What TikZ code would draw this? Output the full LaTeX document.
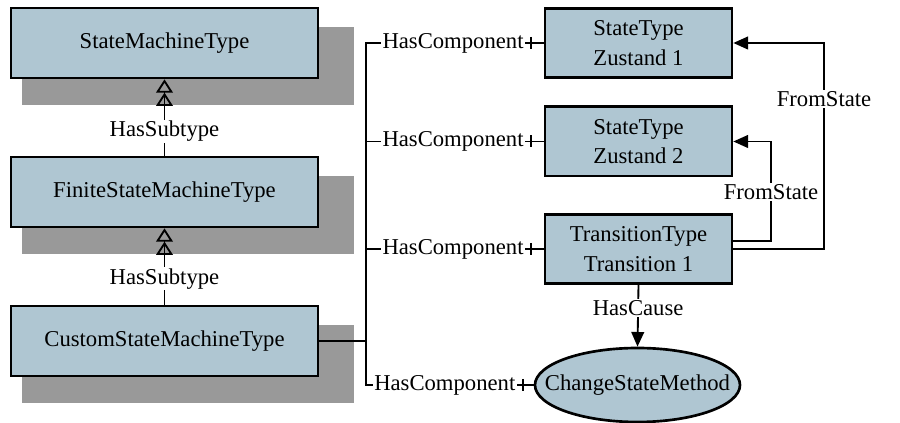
\documentclass[tikz,border=0pt]{standalone}
\usepackage{fontspec}
\setmainfont{Liberation Serif}
\usetikzlibrary{arrows.meta,calc,shapes.geometric,backgrounds}
\definecolor{boxfill}{RGB}{175,198,210}
\definecolor{shadowc}{RGB}{153,153,153}
\begin{document}
\begin{tikzpicture}[x=0.75pt,y=-0.75pt,
  every node/.style={font=\fontsize{17}{22}\selectfont},
  box/.style={draw, line width=2pt, fill=boxfill, minimum width=230.25pt, minimum height=52.5pt, inner sep=0pt, align=center},
  rbox/.style={box, minimum width=140.25pt, minimum height=52pt},
  oval/.style={ellipse, draw, line width=2pt, fill=boxfill, minimum width=153.75pt, minimum height=55.5pt, inner sep=0pt},
  conn/.style={line width=1.4pt},
  lbl/.style={fill=white, inner sep=1pt},
  shadowbox/.style={fill=shadowc},
  sub/.style={conn, -{Triangle[open,length=10pt,width=12.5pt]Triangle[open,length=10pt,width=12.5pt]}},
  arr/.style={conn, -{Triangle[length=11pt,width=9.5pt]}},
]
\useasboundingbox (0,0) rectangle (900,423);
\node[box] (smt) at (164.5,43) {StateMachineType};
\node[box] (fsm) at (164.5,192) {FiniteStateMachineType};
\node[box] (csm) at (164.5,341) {CustomStateMachineType};
\node[rbox] (z1) at (638.5,43) {StateType\\Zustand 1};
\node[rbox] (z2) at (638.5,141.5) {StateType\\Zustand 2};
\node[rbox] (tr) at (638.5,249) {TransitionType\\Transition 1};
\node[oval] (m) at (637.5,385) {};
\node (mtext) at (m.center) {ChangeStateMethod};

\begin{scope}[on background layer]
\foreach \n in {smt,fsm,csm}
  \fill[shadowbox] ($(\n.north west)+(12,20)$) rectangle ($(\n.south east)+(35,26)$);
\end{scope}

% subtype
\draw[sub] (fsm.north) -- node[lbl,pos=0.32]{HasSubtype} (smt.south);
\draw[sub] (csm.north) -- node[lbl,pos=0.34]{HasSubtype} (fsm.south);

% components
\coordinate (bus) at (366,0);
\draw[conn] (csm.east) -- (csm.east -| bus);
\draw[conn] (z1.west) -- node[lbl,pos=0.51]{HasComponent} (z1.west -| bus)
  -- (m.west -| bus) -- node[lbl,pos=0.47]{HasComponent} (m.west);
\draw[conn] (z2.west -| bus) -- node[lbl,pos=0.49]{HasComponent} (z2.west);
\draw[conn] (tr.west -| bus) -- node[lbl,pos=0.49]{HasComponent} (tr.west);
\foreach \n/\d in {z1/13,z2/13,tr/13,m/11}
  \draw[conn] ($(\n.west)+(-\d,-6)$) -- ++(0,12);

% from state
\coordinate (f1) at (771,241);
\coordinate (f2) at (824,0);
\draw[arr] (tr.east |- f1) -- (f1) -- node[lbl,pos=0.49]{FromState} (f1 |- z2.east) -- (z2.east);
\draw[arr] (tr.east) -- (tr.east -| f2) -- node[lbl,pos=0.73]{FromState} (f2 |- z1.east) -- (z1.east);

% cause
\draw[arr] (tr.south) -- node[lbl,pos=0.38]{HasCause} (m.north);
\end{tikzpicture}
\end{document}
